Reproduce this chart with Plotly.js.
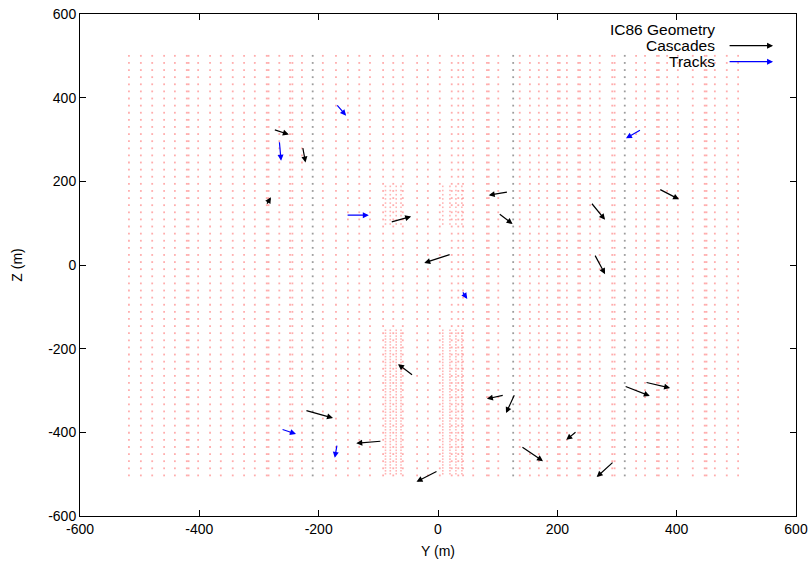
<!DOCTYPE html>
<html>
<head>
<meta charset="utf-8">
<script src="https://cdn.plot.ly/plotly-3.0.1.min.js"></script>
<style>html,body{margin:0;padding:0;background:#fff;}#chart{width:811px;height:566px;}</style>
</head>
<body>
<div id="chart"></div>
<script>
// ---- Geometry data (Y positions of strings, DOM depths) ----
const redStringY = [-518,-498,-479,-459,-441,-421,-418,-402,-382,-364,-344,-325,-307,-287,-284,-266,-248,-244,-228,-193,-171,-151,-132,-114,-92,-75,-59,-35,-17,3,23,34,42,59,82,85,101,137,154,169,183,201,204,216,235,238,255,271,292,296,332,347,367,370,384,402,427,447,450,464,484,503];
const grayStringY = [-210,126,313];
const domZ = [500,483,466,449,432,415,398,381,364,347,330,313,296,279,262,245,228,211,194,177,160,143,126,109,92,75,58,41,24,7,-10,-27,-44,-61,-78,-95,-112,-129,-146,-163,-180,-197,-214,-231,-248,-265,-282,-299,-316,-333,-350,-367,-384,-401,-418,-435,-452,-469,-486,-503];
const deepCoreY = [-88,-80,-70,-62,8,20,30,40];
const deepUpperZ = [188,178,168,158,148,138,128,118,108,98];
const deepLowerZ = [-156,-163,-170,-177,-184,-191,-198,-205,-212,-219,-226,-233,-240,-247,-254,-261,-268,-275,-282,-289,-296,-303,-310,-317,-324,-331,-338,-345,-352,-359,-366,-373,-380,-387,-394,-401,-408,-415,-422,-429,-436,-443,-450,-457,-464,-471,-478,-485,-492,-499];

// ---- Cascades: tail (Y,Z) -> head (Y,Z) ----
const cascTailY = [-276,-227,-288,-80,118,101,256,370,262,22,-41,0,-94,-223,111,129,139,233,295,312,347];
const cascTailZ = [324,283,143,102,175,124,150,182,26,26,-265,-492,-421,-347,-311,-308,-433,-397,-469,-289,-280];
const cascHeadY = [-250,-222,-280,-45,85,125,280,404,280,-23,-67,-36,-137,-176,82,114,176,215,266,355,389];
const cascHeadZ = [312,245,162,116,167,98,108,157,-22,5,-237,-518,-426,-366,-320,-354,-469,-418,-507,-313,-294];

// ---- Tracks ----
const trackTailY = [-171,-266,-154,341,40,-263,-169];
const trackTailZ = [385,297,119,324,-62,-392,-428];
const trackHeadY = [-154,-263,-116,315,49,-238,-173];
const trackHeadZ = [357,249,119,303,-81,-404,-461];

// ---- Axis ticks ----
const tickVals = [-600,-400,-200,0,200,400,600];
const tickText = ['-600','-400','-200','0','200','400','600'];

function grid(ys, zs) {
  const X = [], Z = [];
  ys.forEach(y => zs.forEach(z => { X.push(y); Z.push(z); }));
  return {X, Z};
}
const red = grid(redStringY, domZ);
const gray = grid(grayStringY, domZ);
const dcU = grid(deepCoreY, deepUpperZ);
const dcL = grid(deepCoreY, deepLowerZ);

const traces = [
  {type:'scatter', mode:'markers', x:red.X, y:red.Z, hoverinfo:'skip', showlegend:false,
   marker:{symbol:'square', size:1.8, color:'rgba(255,70,70,0.45)', line:{width:0}}},
  {type:'scatter', mode:'markers', x:dcU.X.concat(dcL.X), y:dcU.Z.concat(dcL.Z), hoverinfo:'skip', showlegend:false,
   marker:{symbol:'square', size:1.6, color:'rgba(255,70,70,0.4)', line:{width:0}}},
  {type:'scatter', mode:'markers', x:gray.X, y:gray.Z, hoverinfo:'skip', showlegend:false,
   marker:{symbol:'square', size:1.8, color:'rgba(90,90,90,0.6)', line:{width:0}}}
];

const annotations = [];
function addArrows(ty, tz, hy, hz, color) {
  for (let i = 0; i < ty.length; i++) {
    annotations.push({x:hy[i], y:hz[i], ax:ty[i], ay:tz[i], xref:'x', yref:'y', axref:'x', ayref:'y',
      text:'', showarrow:true, arrowhead:2, arrowsize:1.0, arrowwidth:1.2, arrowcolor:color, standoff:0, startstandoff:0});
  }
}
addArrows(cascTailY, cascTailZ, cascHeadY, cascHeadZ, '#000000');
addArrows(trackTailY, trackTailZ, trackHeadY, trackHeadZ, '#0000ff');

// legend (gnuplot style: text right-aligned, sample on the right)
const FONT = 'Liberation Sans, Arial, sans-serif';
const legendFont = {family:FONT, size:15.5, color:'#000'};
const legItems = [['IC86 Geometry',0.970,null],['Cascades',0.937,'#000000'],['Tracks',0.905,'#0000ff']];
legItems.forEach(([t, yy, c]) => {
  annotations.push({xref:'paper', yref:'paper', x:0.8897, y:yy, xanchor:'right', yanchor:'middle',
    text:t, showarrow:false, font:legendFont});
  if (c) {
    annotations.push({xref:'paper', yref:'paper', x:0.968, y:yy, ax:-45, ay:0, text:'', showarrow:true,
      arrowhead:2, arrowsize:1.0, arrowwidth:1.2, arrowcolor:c, standoff:0});
  }
});

const axisCommon = {
  range:[-600,600], tickmode:'array', tickvals:tickVals, ticktext:tickText,
  ticks:'inside', ticklen:6, tickwidth:1, tickcolor:'#000', mirror:'ticks',
  showline:true, linecolor:'#000', linewidth:1, showgrid:false, zeroline:false,
  tickfont:{family:FONT, size:14, color:'#000'}
};

const layout = {
  width:811, height:566,
  margin:{l:80, r:15, t:14, b:50},
  paper_bgcolor:'#fff', plot_bgcolor:'#fff',
  showlegend:false,
  xaxis:Object.assign({}, axisCommon, {title:{text:'Y (m)', standoff:10, font:{family:FONT, size:14, color:'#000'}}}),
  yaxis:Object.assign({}, axisCommon, {title:{text:'Z (m)', standoff:22, font:{family:FONT, size:14, color:'#000'}}}),
  annotations:annotations
};

Plotly.newPlot('chart', traces, layout, {staticPlot:true, displayModeBar:false});
</script>
</body>
</html>
